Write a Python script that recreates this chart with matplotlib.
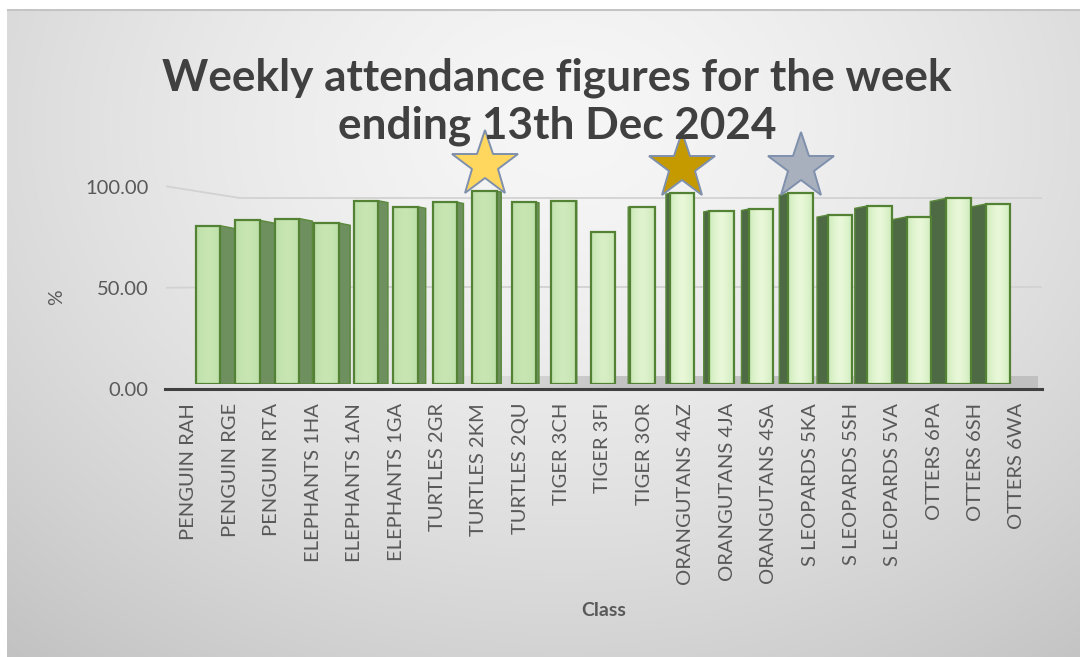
import numpy as np
import matplotlib
matplotlib.use("Agg")
import matplotlib.pyplot as plt
from matplotlib.patches import Polygon
from matplotlib.lines import Line2D

# ---------------- data ----------------
classes = ["PENGUIN RAH", "PENGUIN RGE", "PENGUIN RTA", "ELEPHANTS 1HA",
           "ELEPHANTS 1AN", "ELEPHANTS 1GA", "TURTLES 2GR", "TURTLES 2KM",
           "TURTLES 2QU", "TIGER 3CH", "TIGER 3FI", "TIGER 3OR",
           "ORANGUTANS 4AZ", "ORANGUTANS 4JA", "ORANGUTANS 4SA",
           "S LEOPARDS 5KA", "S LEOPARDS 5SH", "S LEOPARDS 5VA",
           "OTTERS 6PA", "OTTERS 6SH", "OTTERS 6WA"]
attendance = [81.6, 84.4, 85.3, 83.0, 94.5, 91.4, 93.7, 99.4, 93.7, 94.5,
              78.5, 91.4, 98.3, 89.3, 90.2, 98.3, 87.1, 91.8, 86.2, 95.7, 92.8]
yticks = [0, 50, 100]
star_classes = ["TURTLES 2KM", "ORANGUTANS 4AZ", "S LEOPARDS 5KA"]
star_colors = ["#FFD65E", "#C49A00", "#A9B0BD"]

title = "Weekly attendance figures for the week\nending 13th Dec 2024"
FONT = ["Lato", "DejaVu Sans"]

W, H = 1080, 657
fig = plt.figure(figsize=(W / 100, H / 100), dpi=100)
fig.patch.set_facecolor("white")


def frac(l, r, b, t):
    return [l / W, 1 - b / H, (r - l) / W, (b - t) / H]


# ---------------- background gradient ----------------
bg = fig.add_axes([7 / W, 0, 1 - 7 / W, 1 - 9 / H], zorder=0)
ny, nx = 300, 500
yy, xx = np.mgrid[0:1:ny * 1j, 0:1:nx * 1j]
r = np.sqrt(((xx - 0.52) / 0.80) ** 2 + ((yy - 0.18) / 1.05) ** 2)
g = 0.965 - 0.20 * np.clip(r, 0, 1.25) ** 1.5
bg.imshow(np.dstack([g, g, g]), aspect="auto", extent=[0, 1, 0, 1],
          origin="upper", interpolation="bilinear")
bg.plot([0, 1], [0.998, 0.998], color="#C4C4C4", lw=1.5)
bg.set_xlim(0, 1)
bg.set_ylim(0, 1)
bg.axis("off")

# ---------------- axes: back wall / front plane / bar plane ----------------
x_left, x_right = 165, 1042
back = fig.add_axes(frac(x_left, x_right, 376, 140), zorder=1)
back.set_ylim(0, (376 - 140) / 1.78)
back.set_xlim(0, 1)
back.axis("off")

front = fig.add_axes(frac(x_left, x_right, 389, 140), zorder=2)
front.set_xlim((x_left - 189) / 41.4, (x_right - 189) / 41.4)
front.set_ylim(0, (389 - 140) / 2.025)
front.patch.set_alpha(0)

ax = fig.add_axes(frac(x_left, x_right, 384, 140), zorder=3)
ax.set_xlim((x_left - 208) / 39.5, (x_right - 208) / 39.5)
ax.set_ylim(0, (384 - 140) / 1.94)
ax.axis("off")

# gridlines on back wall + side wall
for v in yticks[1:]:
    back.axhline(v, xmin=(240 - x_left) / (x_right - x_left), xmax=1.0,
                 color="#D2D2D2", lw=1.3)
    pf = front.transData.transform((front.get_xlim()[0] + 0.05, v))
    pb = back.transAxes.transform(((240 - x_left) / (x_right - x_left), 0))
    pb = (pb[0], back.transData.transform((0, v))[1])
    fig.add_artist(Line2D([pf[0] / W, pb[0] / W], [pf[1] / H, pb[1] / H],
                          transform=fig.transFigure, color="#D2D2D2", lw=1.3,
                          zorder=1))

# floor (grey band between front edge and back edge)
floor_depth = (389 - 376) / 2.025
fx0, fx1 = front.get_xlim()
ramp = np.clip((np.linspace(0, 1, 400) - 0.30) / 0.22, 0, 1)
floor_img = np.zeros((2, 400, 4))
floor_img[..., :3] = 0.74
floor_img[..., 3] = ramp * 0.85
front.imshow(floor_img, extent=[fx0, fx1 - 0.1, 0, floor_depth], aspect="auto",
             zorder=0.5, interpolation="bilinear")
front.set_xlim(fx0, fx1)
front.set_ylim(0, (389 - 140) / 2.025)

# ---------------- bars ----------------
x = np.arange(len(classes))
bw = 0.61
mid = 9.7
for i, v in enumerate(attendance):
    d = mid - i
    s = 0.044 * abs(d)
    if d > 0:
        x0 = x[i] + bw / 2
        x1 = x0 + s
        side_col = "#6E8F5E"
    else:
        x0 = x[i] - bw / 2
        x1 = x0 - s
        side_col = "#4D6A44"
    if s > 0.02:
        ax.add_patch(Polygon([(x0, 0), (x0, v), (x1, v - 4 * s), (x1, 0)],
                             closed=True, facecolor=side_col,
                             edgecolor="#5A8A3A", lw=1.0, zorder=2))

bars = ax.bar(x, attendance, width=bw, color="none", edgecolor="#548235",
              linewidth=1.6, zorder=4)
# horizontal gradient fill inside each front face
u = np.linspace(0, 1, 64)
shape = 1 - np.abs(2 * u - 1) ** 1.6
for i, (b, v) in enumerate(zip(bars, attendance)):
    tt = np.clip((i - 8) / 4, 0, 1)
    edge = np.array([0.74, 0.87, 0.66]) * (1 - tt) + np.array([0.80, 0.92, 0.72]) * tt
    cen = np.array([0.78, 0.90, 0.70]) * (1 - tt) + np.array([0.91, 0.97, 0.85]) * tt
    cols = edge[None, :] + (cen - edge)[None, :] * shape[:, None]
    im = ax.imshow(cols[None, :, :], extent=[x[i] - bw / 2, x[i] + bw / 2, 0, v],
                   aspect="auto", zorder=3, interpolation="bilinear")
    im.set_clip_path(b)
ax.set_xlim((x_left - 208) / 39.5, (x_right - 208) / 39.5)
ax.set_ylim(0, (384 - 140) / 1.94)

# stars
for c, col in zip(star_classes, star_colors):
    idx = classes.index(c)
    ax.plot(x[idx], attendance[idx] + 13.5, marker="*", ms=50,
            markerfacecolor=col, markeredgecolor="#7F90AD", markeredgewidth=1.4,
            clip_on=False, zorder=6)

# ---------------- front axis (labels) ----------------
for sp in ["top", "right", "left"]:
    front.spines[sp].set_visible(False)
front.spines["bottom"].set_color("#404040")
front.spines["bottom"].set_linewidth(2.2)
front.set_yticks(yticks)
front.set_yticklabels([f"{v:.2f}" for v in yticks], fontsize=14.5,
                      color="#595959", family=FONT)
front.tick_params(axis="y", length=0, pad=12)
front.set_xticks(x)
front.set_xticklabels(classes, rotation=90, fontsize=14.5, color="#595959",
                      family=FONT)
front.tick_params(axis="x", length=0, pad=10)

front.set_xlabel("Class", fontsize=14, color="#595959", family=FONT,
                 fontweight="bold")
front.xaxis.set_label_coords((604 - x_left) / (x_right - x_left),
                             (389 - 610) / (389 - 140))
front.xaxis.label.set_va("center")
front.set_ylabel("%", fontsize=14, color="#595959", family=FONT)
front.yaxis.set_label_coords((57 - x_left) / (x_right - x_left),
                             (389 - 297) / (389 - 140))
front.yaxis.label.set_va("center")

fig.text(557 / W, 1 - 101.5 / H, title, ha="center", va="center",
         fontsize=31.8, fontweight="bold", color="#404040", family=FONT,
         linespacing=1.22, zorder=10)

fig.savefig("out.png", dpi=100)
